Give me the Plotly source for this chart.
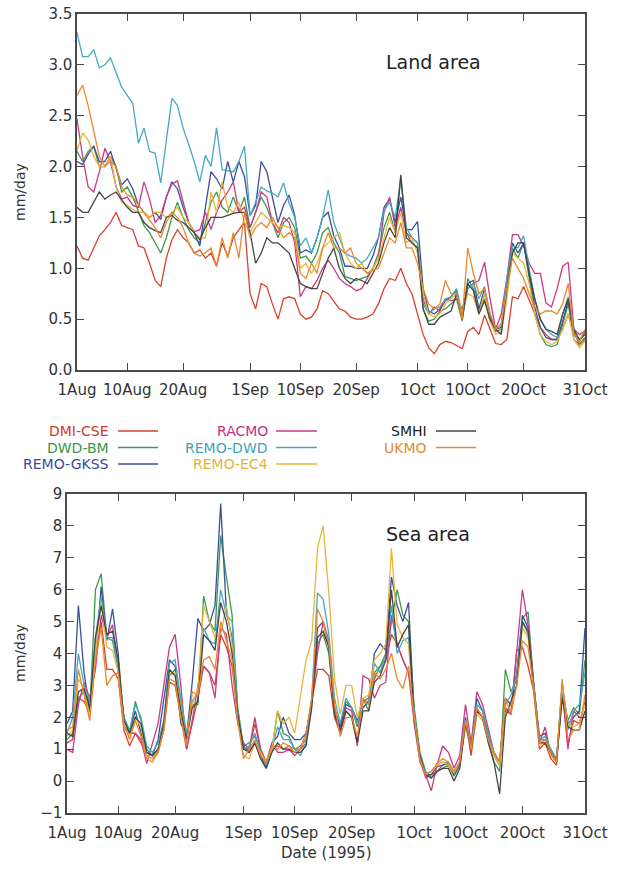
import pandas as pd
import plotly.graph_objects as go

W, H = 629, 870

dates = pd.date_range("1995-08-01", "1995-10-31", freq="D")
tick_dates = ["1995-08-01", "1995-08-10", "1995-08-20", "1995-09-01", "1995-09-10",
              "1995-09-20", "1995-10-01", "1995-10-10", "1995-10-20", "1995-10-31"]
tick_labels = ["1Aug", "10Aug", "20Aug", "1Sep", "10Sep", "20Sep", "1Oct", "10Oct", "20Oct", "31Oct"]

models = ["DMI-CSE", "DWD-BM", "REMO-GKSS", "RACMO", "REMO-DWD", "REMO-EC4", "SMHI", "UKMO"]
colors = ["#d6412f", "#3d9a4b", "#3c4e9c", "#c93a86", "#45a9c2", "#e9b53a", "#454545", "#e8892c"]

# ---------------- Land area (mm/day) ----------------
land_dmi_cse = [1.22, 1.10, 1.08, 1.20, 1.32, 1.38, 1.45, 1.55, 1.42, 1.40,
                1.38, 1.22, 1.20, 1.05, 0.88, 0.82, 1.10, 1.28, 1.38, 1.30,
                1.25, 1.15, 1.18, 1.10, 1.15, 1.02, 1.25, 1.12, 1.30, 1.38,
                1.45, 0.75, 0.60, 0.85, 0.82, 0.65, 0.50, 0.70, 0.72, 0.70,
                0.55, 0.50, 0.52, 0.60, 0.78, 0.75, 0.68, 0.60, 0.58, 0.52,
                0.50, 0.50, 0.52, 0.55, 0.65, 0.80, 0.90, 0.88, 1.00, 0.85,
                0.75, 0.55, 0.35, 0.22, 0.16, 0.25, 0.28, 0.27, 0.24, 0.21,
                0.38, 0.42, 0.35, 0.54, 0.40, 0.26, 0.25, 0.30, 0.72, 0.70,
                0.82, 0.68, 0.55, 0.42, 0.35, 0.30, 0.30, 0.40, 0.55, 0.38,
                0.25, 0.30]
land_dwd_bm = [2.15, 2.05, 2.15, 2.20, 2.00, 2.00, 2.10, 2.00, 1.75, 1.80,
               1.70, 1.55, 1.42, 1.35, 1.25, 1.15, 1.30, 1.50, 1.65, 1.50,
               1.38, 1.30, 1.25, 1.45, 1.65, 1.75, 1.60, 1.55, 1.70, 1.55,
               1.70, 1.40, 1.55, 1.70, 1.60, 1.45, 1.30, 1.45, 1.50, 1.40,
               1.10, 1.12, 1.05, 1.15, 1.35, 1.40, 1.25, 1.15, 0.92, 0.90,
               0.88, 0.90, 0.92, 1.00, 1.15, 1.40, 1.55, 1.35, 1.90, 1.35,
               1.30, 1.25, 0.60, 0.48, 0.50, 0.58, 0.60, 0.65, 0.70, 0.48,
               0.90, 0.80, 0.58, 0.70, 0.48, 0.38, 0.40, 0.80, 1.20, 1.10,
               1.25, 0.90, 0.55, 0.35, 0.25, 0.23, 0.25, 0.45, 0.65, 0.30,
               0.25, 0.32]
land_remo_gkss = [2.05, 2.02, 2.12, 2.20, 2.05, 2.05, 2.15, 1.98, 1.82, 1.88,
                  1.78, 1.62, 1.55, 1.50, 1.55, 1.48, 1.70, 1.85, 1.78, 1.60,
                  1.45, 1.35, 1.22, 1.60, 1.95, 1.88, 1.78, 2.05, 1.85, 2.05,
                  1.90, 1.52, 1.62, 2.05, 1.95, 1.70, 1.45, 1.62, 1.72, 1.52,
                  1.15, 1.18, 1.15, 1.30, 1.50, 1.55, 1.32, 1.20, 1.02, 1.02,
                  1.00, 1.00, 1.00, 1.12, 1.30, 1.60, 1.68, 1.45, 1.70, 1.38,
                  1.38, 1.46, 0.80, 0.58, 0.55, 0.60, 0.68, 0.72, 0.78, 0.50,
                  0.85, 0.88, 0.60, 0.80, 0.52, 0.40, 0.42, 0.85, 1.25, 1.15,
                  1.25, 0.95, 0.62, 0.42, 0.32, 0.30, 0.30, 0.48, 0.68, 0.35,
                  0.28, 0.38]
land_racmo = [2.47, 2.10, 1.80, 1.75, 1.95, 2.18, 2.05, 1.80, 1.68, 1.70,
              1.62, 1.60, 1.85, 1.68, 1.45, 1.52, 1.70, 1.83, 1.86, 1.65,
              1.45, 1.36, 1.38, 1.55, 1.38, 1.55, 1.67, 1.75, 1.85, 1.55,
              1.60, 1.40, 1.55, 1.75, 1.70, 1.45, 1.35, 1.50, 1.45, 1.25,
              0.72, 0.82, 0.80, 0.88, 1.00, 1.08, 1.00, 0.90, 0.85, 0.82,
              0.78, 0.80, 0.90, 1.00, 1.10, 1.55, 1.70, 1.40, 1.60, 1.35,
              1.25, 1.20, 0.70, 0.55, 0.62, 0.58, 0.70, 0.68, 0.70, 0.60,
              0.80, 0.85, 0.88, 1.06, 0.70, 0.40, 0.55, 0.90, 1.33, 1.33,
              1.22, 1.05, 0.95, 0.95, 0.66, 0.62, 0.80, 1.02, 1.06, 0.40,
              0.35, 0.38]
land_remo_dwd = [3.32, 3.08, 3.08, 3.15, 2.97, 3.00, 3.07, 2.92, 2.78, 2.70,
                 2.62, 2.23, 2.38, 2.15, 2.13, 1.84, 2.25, 2.67, 2.60, 2.38,
                 2.22, 2.05, 1.85, 2.11, 2.00, 2.38, 1.97, 1.96, 1.95, 2.05,
                 2.20, 1.52, 1.65, 1.80, 1.76, 1.74, 1.70, 1.84, 1.64, 1.50,
                 1.22, 1.30, 1.15, 1.30, 1.50, 1.77, 1.45, 1.30, 1.15, 1.12,
                 1.10, 1.05, 1.10, 1.20, 1.30, 1.57, 1.65, 1.50, 1.88, 1.40,
                 1.30, 1.25, 0.65, 0.55, 0.60, 0.62, 0.70, 0.72, 0.80, 0.55,
                 0.80, 0.85, 0.70, 0.82, 0.55, 0.40, 0.45, 0.90, 1.22, 1.20,
                 1.32, 1.00, 0.70, 0.50, 0.40, 0.35, 0.32, 0.55, 0.72, 0.35,
                 0.30, 0.35]
land_remo_ec4 = [2.16, 2.33, 2.26, 2.10, 2.00, 2.00, 2.10, 1.80, 1.65, 1.62,
                 1.58, 1.55, 1.55, 1.50, 1.55, 1.55, 1.50, 1.55, 1.60, 1.50,
                 1.45, 1.35, 1.30, 1.30, 1.75, 1.55, 1.85, 1.60, 1.55, 1.65,
                 1.45, 1.35, 1.45, 1.55, 1.50, 1.45, 1.40, 1.42, 1.40, 1.35,
                 1.00, 1.05, 0.95, 1.05, 1.20, 1.25, 1.30, 1.35, 1.15, 1.05,
                 1.00, 1.05, 0.95, 1.00, 1.10, 1.30, 1.50, 1.35, 1.55, 1.25,
                 1.30, 1.15, 0.75, 0.55, 0.52, 0.55, 0.65, 0.70, 0.75, 0.55,
                 0.75, 0.72, 0.55, 0.75, 0.48, 0.35, 0.38, 0.70, 1.15, 1.10,
                 1.05, 0.85, 0.55, 0.35, 0.28, 0.25, 0.28, 0.40, 0.55, 0.30,
                 0.22, 0.28]
land_smhi = [1.60, 1.55, 1.55, 1.65, 1.75, 1.68, 1.72, 1.75, 1.68, 1.60,
             1.55, 1.55, 1.45, 1.40, 1.37, 1.35, 1.50, 1.52, 1.47, 1.45,
             1.40, 1.35, 1.28, 1.40, 1.50, 1.50, 1.50, 1.52, 1.54, 1.55,
             1.55, 1.35, 1.05, 1.15, 1.30, 1.25, 1.25, 1.20, 1.15, 1.00,
             0.85, 0.82, 0.80, 0.80, 0.95, 1.10, 1.20, 1.00, 0.90, 0.85,
             0.90, 0.88, 0.85, 0.95, 1.05, 1.25, 1.40, 1.30, 1.92, 1.30,
             1.25, 1.20, 0.60, 0.45, 0.45, 0.52, 0.55, 0.58, 0.75, 0.50,
             0.85, 0.78, 0.55, 0.68, 0.50, 0.40, 0.35, 0.80, 1.15, 1.25,
             1.25, 0.95, 0.70, 0.50, 0.40, 0.38, 0.35, 0.55, 0.70, 0.40,
             0.30, 0.35]
land_ukmo = [2.70, 2.80, 2.60, 2.35, 2.10, 2.00, 2.05, 2.00, 1.80, 1.72,
             1.70, 1.62, 1.55, 1.48, 1.40, 1.30, 1.45, 1.55, 1.50, 1.40,
             1.25, 1.15, 1.12, 1.15, 1.20, 1.02, 1.30, 1.10, 1.35, 1.10,
             1.55, 1.30, 1.40, 1.45, 1.40, 1.50, 1.40, 1.30, 1.35, 1.30,
             0.95, 0.90, 1.05, 0.95, 1.20, 1.35, 1.20, 1.20, 1.15, 1.20,
             1.05, 1.00, 0.95, 0.98, 1.00, 1.15, 1.30, 1.25, 1.45, 1.20,
             1.20, 1.05, 0.80, 0.65, 0.60, 0.65, 0.88, 0.75, 0.75, 0.50,
             1.20, 0.95, 0.75, 0.80, 0.55, 0.40, 0.45, 0.80, 1.10, 1.00,
             0.90, 0.75, 0.62, 0.55, 0.58, 0.58, 0.55, 0.65, 0.85, 0.35,
             0.28, 0.40]

# ---------------- Sea area (mm/day) ----------------
sea_dmi_cse = [1.2, 1.3, 2.6, 2.5, 2.1, 3.8, 5.0, 3.5, 3.5, 3.2,
               1.6, 1.1, 1.5, 1.2, 0.8, 0.7, 0.9, 1.6, 3.1, 3.0,
               2.0, 1.0, 1.8, 2.6, 3.6, 3.4, 3.0, 4.6, 4.2, 3.6,
               2.0, 1.0, 1.0, 1.8, 1.0, 0.6, 1.0, 1.1, 1.0, 1.1,
               1.0, 1.0, 1.5, 2.5, 3.5, 3.5, 3.3, 2.0, 1.5, 2.2,
               2.0, 1.2, 2.5, 2.6, 3.2, 3.6, 3.8, 4.6, 4.3, 3.8,
               3.4, 2.2, 0.7, 0.1, 0.2, 0.3, 0.5, 0.6, 0.2, 0.5,
               1.9, 0.8, 2.2, 2.0, 1.4, 0.8, 0.5, 2.3, 2.1, 4.1,
               4.2, 3.6, 2.8, 1.0, 1.2, 0.7, 0.5, 3.1, 1.2, 1.9,
               1.8, 2.5]
sea_dwd_bm = [1.3, 1.5, 2.6, 2.8, 2.1, 6.0, 6.5, 4.5, 4.4, 3.5,
              2.0, 1.5, 2.5, 1.9, 1.0, 0.8, 1.0, 1.8, 3.3, 3.5,
              2.5, 1.4, 2.4, 2.4, 5.8, 5.0, 4.7, 7.7, 6.4, 5.2,
              2.3, 1.1, 1.2, 1.4, 1.0, 0.5, 1.0, 2.2, 1.5, 1.4,
              1.0, 1.1, 1.3, 2.6, 4.3, 4.6, 4.0, 2.1, 1.7, 2.5,
              2.3, 1.7, 2.6, 2.2, 3.4, 3.6, 4.0, 5.0, 6.0, 5.2,
              5.0, 2.3, 0.9, 0.3, 0.1, 0.3, 0.4, 0.5, 0.15, 0.5,
              1.8, 1.0, 2.3, 2.0, 1.3, 0.6, 0.3, 3.5, 2.8, 3.2,
              5.1, 5.3, 3.0, 1.3, 1.3, 1.0, 0.6, 2.8, 1.9, 2.3,
              2.1, 3.8]
sea_remo_gkss = [1.8, 2.2, 5.5, 3.4, 2.2, 3.8, 6.1, 4.4, 5.4, 4.0,
                 1.7, 1.55, 2.2, 1.5, 0.9, 0.8, 1.3, 2.5, 3.8, 3.6,
                 1.8, 1.4, 3.1, 5.1, 4.7, 4.9, 5.5, 8.7, 5.3, 4.5,
                 1.9, 1.1, 0.9, 1.2, 0.8, 0.4, 1.2, 1.4, 2.0, 1.5,
                 1.3, 1.3, 1.5, 2.5, 4.8, 5.0, 4.2, 2.3, 1.7, 2.4,
                 2.3, 1.9, 2.3, 2.5, 4.0, 4.3, 4.1, 6.4, 5.5, 5.0,
                 5.6, 2.0, 0.8, 0.2, 0.2, 0.45, 0.5, 0.55, 0.2, 0.6,
                 2.0, 1.0, 2.6, 2.2, 1.5, 0.9, 0.6, 2.6, 2.4, 3.4,
                 5.2, 4.8, 3.0, 1.4, 1.5, 0.9, 0.7, 3.0, 1.8, 2.0,
                 2.2, 4.8]
sea_racmo = [1.0, 0.9, 2.4, 3.1, 2.6, 3.5, 5.2, 4.5, 4.9, 3.6,
             2.0, 1.5, 1.5, 1.3, 0.55, 1.2, 1.8, 3.0, 4.2, 4.6,
             3.0, 1.0, 1.9, 3.0, 3.6, 3.4, 2.6, 4.8, 4.6, 3.0,
             1.8, 1.2, 1.0, 2.0, 1.0, 0.6, 1.2, 0.9, 0.9, 1.0,
             0.8, 1.0, 1.2, 2.5, 4.0, 5.0, 4.4, 2.2, 1.5, 2.3,
             2.2, 1.1, 3.3, 3.2, 2.6, 3.0, 3.1, 5.2, 4.3, 3.8,
             3.4, 1.8, 0.6, 0.2, -0.3, 0.5, 1.1, 0.9, 0.4, 0.8,
             2.4, 1.2, 2.8, 2.4, 1.6, 0.9, 0.6, 2.2, 2.1, 4.0,
             6.0, 4.9, 3.1, 1.2, 1.7, 0.8, 0.7, 2.8, 1.0, 2.2,
             2.0, 2.0]
sea_remo_dwd = [1.5, 2.0, 4.0, 3.0, 2.5, 4.5, 5.8, 4.5, 4.5, 3.6,
                2.0, 1.6, 2.4, 2.0, 1.1, 0.9, 1.2, 1.9, 3.7, 3.8,
                2.6, 1.5, 2.5, 2.8, 4.8, 4.4, 4.3, 6.0, 5.2, 5.0,
                2.2, 1.0, 1.1, 1.5, 0.9, 0.5, 1.0, 1.7, 1.3, 1.3,
                1.0, 0.8, 1.2, 2.6, 5.9, 5.7, 4.6, 2.6, 1.8, 2.6,
                2.3, 1.8, 2.5, 2.5, 3.7, 3.4, 4.0, 5.5, 4.0, 4.4,
                4.5, 2.1, 0.8, 0.25, 0.3, 0.5, 0.6, 0.55, 0.3, 0.6,
                1.9, 1.1, 2.4, 2.2, 1.5, 0.9, 0.5, 2.4, 2.7, 3.3,
                5.0, 4.6, 3.0, 1.3, 1.4, 1.0, 0.7, 2.9, 1.6, 2.2,
                2.4, 3.4]
sea_remo_ec4 = [1.4, 1.6, 3.2, 2.9, 2.0, 4.0, 5.6, 4.2, 4.1, 3.4,
                1.7, 1.4, 2.0, 1.7, 0.8, 0.7, 1.0, 1.7, 3.3, 3.4,
                2.3, 1.3, 2.4, 2.9, 5.5, 5.0, 4.5, 4.6, 5.5, 4.3,
                2.0, 0.8, 0.7, 1.2, 0.9, 0.6, 1.0, 2.2, 1.8, 2.0,
                1.5, 2.6, 3.8, 4.4, 7.3, 8.0, 5.9, 3.2, 2.1, 3.0,
                3.0, 2.0, 2.6, 2.7, 3.8, 4.0, 4.3, 7.3, 4.9, 4.5,
                4.3, 2.0, 0.7, 0.2, 0.3, 0.5, 0.6, 0.5, 0.25, 0.6,
                1.7, 1.0, 2.1, 1.9, 1.3, 0.8, 0.5, 2.1, 2.4, 3.0,
                4.8, 4.5, 2.8, 1.1, 1.3, 0.8, 0.6, 3.0, 1.8, 1.7,
                1.8, 2.4]
sea_smhi = [1.5, 1.4, 2.8, 2.9, 2.3, 4.5, 5.5, 4.6, 4.7, 3.8,
            1.9, 1.5, 2.0, 1.8, 0.9, 0.8, 1.0, 1.8, 3.5, 3.3,
            2.2, 1.3, 2.3, 2.5, 4.6, 4.4, 4.1, 5.6, 5.0, 4.0,
            2.1, 1.0, 0.9, 1.2, 0.7, 0.4, 0.9, 1.2, 1.0, 1.0,
            0.9, 0.9, 1.1, 2.3, 4.5, 4.7, 4.2, 2.1, 1.6, 2.2,
            2.0, 1.2, 2.2, 2.2, 3.1, 3.3, 3.8, 6.0, 4.2, 4.6,
            4.9, 1.9, 0.8, 0.2, 0.1, 0.3, 0.4, 0.4, 0.0, 0.4,
            1.8, 1.0, 2.2, 2.0, 1.2, 0.6, -0.4, 2.0, 2.5, 3.0,
            5.0, 4.7, 2.9, 1.2, 1.2, 0.9, 0.6, 2.6, 1.7, 1.6,
            1.6, 2.2]
sea_ukmo = [1.6, 1.7, 3.5, 2.7, 1.9, 3.8, 4.8, 3.0, 3.3, 3.4,
            1.8, 1.3, 1.9, 1.4, 0.7, 0.6, 0.9, 1.6, 3.2, 3.1,
            2.0, 1.1, 2.8, 2.7, 3.8, 3.9, 3.5, 5.0, 4.4, 3.8,
            1.9, 0.7, 1.0, 1.3, 0.8, 0.6, 1.1, 1.0, 1.2, 1.1,
            0.9, 1.0, 1.5, 2.6, 5.4, 5.0, 4.3, 2.4, 1.4, 2.0,
            2.0, 1.4, 2.5, 2.4, 3.4, 3.2, 3.5, 4.0, 3.2, 2.9,
            3.6, 2.0, 0.7, 0.2, 0.3, 0.55, 0.7, 0.6, 0.3, 0.6,
            1.9, 1.0, 2.3, 2.0, 1.3, 0.9, 0.6, 2.6, 2.1, 3.0,
            4.4, 4.2, 2.9, 1.2, 1.3, 0.9, 0.6, 3.2, 1.3, 1.6,
            1.6, 2.7]

land_series = [land_dmi_cse, land_dwd_bm, land_remo_gkss, land_racmo,
               land_remo_dwd, land_remo_ec4, land_smhi, land_ukmo]
sea_series = [sea_dmi_cse, sea_dwd_bm, sea_remo_gkss, sea_racmo,
              sea_remo_dwd, sea_remo_ec4, sea_smhi, sea_ukmo]

FONT = "DejaVu Sans"
AX = "#4a4a4a"

fig = go.Figure()
for name, col, ly, sy in zip(models, colors, land_series, sea_series):
    fig.add_trace(go.Scatter(x=dates, y=ly, mode="lines", name=name, showlegend=False,
                             line=dict(color=col, width=1.3), xaxis="x", yaxis="y"))
    fig.add_trace(go.Scatter(x=dates, y=sy, mode="lines", name=name, showlegend=False,
                             line=dict(color=col, width=1.3), xaxis="x2", yaxis="y2"))


def px_x(p):
    return p / W


def px_y(p):
    return 1 - p / H


common = dict(showline=True, linecolor=AX, linewidth=1.5, mirror="allticks",
              ticks="inside", ticklen=7, tickwidth=1.3, tickcolor=AX,
              showgrid=False, zeroline=False, automargin=False,
              tickfont=dict(family=FONT, size=15, color="#333333"))

xcommon = dict(common, type="date", range=[dates[0], dates[-1]],
               tickvals=tick_dates, ticktext=tick_labels, tickangle=0,
               ticklabelstandoff=5)

fig.update_layout(
    width=W, height=H, autosize=False,
    margin=dict(l=0, r=0, t=0, b=0, pad=0),
    paper_bgcolor="white", plot_bgcolor="white",
    font=dict(family=FONT, color="#333333"),
    xaxis=dict(xcommon, domain=[px_x(77), px_x(585)], anchor="y"),
    yaxis=dict(common, domain=[px_y(370), px_y(14)], range=[0, 3.5], dtick=0.5,
               tickformat=".1f", anchor="x"),
    xaxis2=dict(xcommon, domain=[px_x(67), px_x(585)], anchor="y2"),
    yaxis2=dict(common, domain=[px_y(813), px_y(494)], range=[-1, 9], dtick=1,
                anchor="x2"),
)


def label(text, x, y, size, color="#333333", angle=0, xanchor="center"):
    return dict(text=text, x=px_x(x), y=px_y(y), xref="paper", yref="paper",
                xanchor=xanchor, yanchor="middle", textangle=angle, showarrow=False,
                borderpad=0, font=dict(family=FONT, size=size, color=color))


annotations = [
    label("Land area", 433, 62, 19, "#222222"),
    label("Sea area", 428, 534, 19, "#222222"),
    label("mm/day", 20, 192, 14, angle=-90),
    label("mm/day", 20, 653, 14, angle=-90),
    label("Date (1995)", 326, 853, 15),
]

# legend: right-aligned names followed by line samples, three columns
text_right = [110, 110, 110, 269, 269, 269, 428, 428]
line_x0 = [118, 118, 118, 276, 276, 276, 436, 436]
line_x1 = [158, 158, 158, 317, 317, 317, 476, 476]
row_y = [431, 447.5, 464, 431, 447.5, 464, 431, 447.5]
text_colors = ["#cc3b2a", "#3a9648", "#3a4d9a", "#c4307e", "#3fa4bf", "#e4b334", "#222222", "#e2892e"]

shapes = []
for i, name in enumerate(models):
    annotations.append(label(name, text_right[i], row_y[i], 14, text_colors[i], xanchor="right"))
    shapes.append(dict(type="line", xref="paper", yref="paper",
                       x0=px_x(line_x0[i]), x1=px_x(line_x1[i]),
                       y0=px_y(row_y[i]), y1=px_y(row_y[i]),
                       line=dict(color=colors[i], width=1.6)))

fig.update_layout(annotations=annotations, shapes=shapes)

fig.write_html("out.html", config={"displayModeBar": False},
               post_script="document.body.style.margin='0px';document.body.style.padding='0px';")
